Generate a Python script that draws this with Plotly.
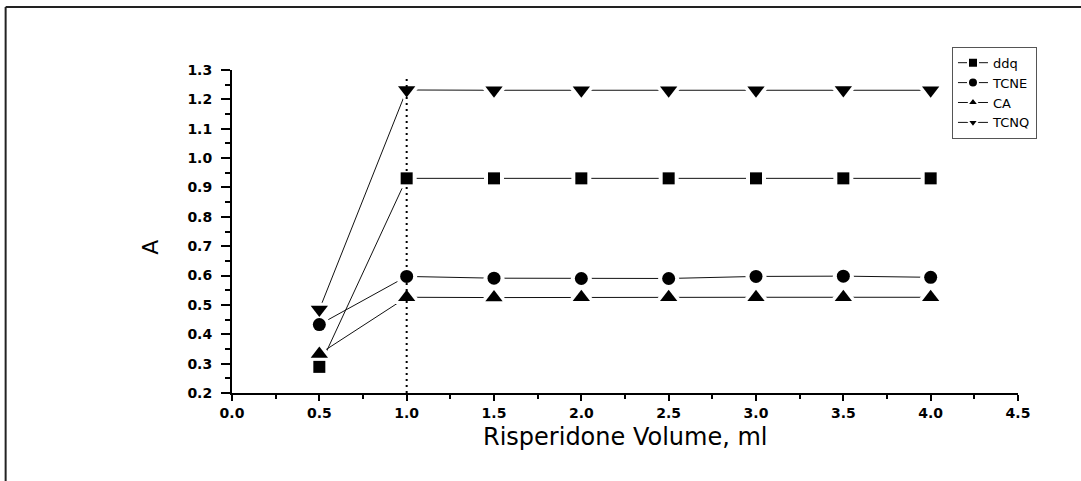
import plotly.graph_objects as go

# Absorbance readings against risperidone volume for four acceptors
volume = [0.5, 1.0, 1.5, 2.0, 2.5, 3.0, 3.5, 4.0]
ddq = [0.289, 0.931, 0.931, 0.931, 0.931, 0.931, 0.931, 0.931]
tcne = [0.433, 0.597, 0.591, 0.590, 0.590, 0.597, 0.598, 0.594]
ca = [0.333, 0.526, 0.525, 0.526, 0.526, 0.526, 0.526, 0.526]
tcnq = [0.484, 1.232, 1.231, 1.231, 1.231, 1.231, 1.232, 1.231]

series_names = ["ddq", "TCNE", "CA", "TCNQ"]
series_values = [ddq, tcne, ca, tcnq]
symbols = ["square", "circle", "triangle-up", "triangle-down"]
marker_sizes = [12, 13, 15, 15]
halo_sizes = [20, 21, 27, 27]

# stoichiometric break point marked by a dotted guide
break_x = [1.0, 1.0]
break_y = [0.2, 1.275]

x_ticks = [0.0, 0.5, 1.0, 1.5, 2.0, 2.5, 3.0, 3.5, 4.0, 4.5]
y_ticks = [0.2, 0.3, 0.4, 0.5, 0.6, 0.7, 0.8, 0.9, 1.0, 1.1, 1.2, 1.3]

fig = go.Figure()

# connecting lines
for name, vals in zip(series_names, series_values):
    fig.add_trace(go.Scatter(x=volume, y=vals, mode="lines",
                             line=dict(color="#111", width=1),
                             showlegend=False, hoverinfo="skip"))

# white halos leave a small gap between each line and its symbol
for vals, sym, hs in zip(series_values, symbols, halo_sizes):
    fig.add_trace(go.Scatter(x=volume, y=vals, mode="markers",
                             marker=dict(symbol=sym, size=hs, color="white"),
                             showlegend=False, hoverinfo="skip"))

fig.add_trace(go.Scatter(x=break_x, y=break_y, mode="lines",
                         line=dict(color="black", width=2, dash="2px,4px"),
                         showlegend=False, hoverinfo="skip"))

for name, vals, sym, ms in zip(series_names, series_values, symbols, marker_sizes):
    fig.add_trace(go.Scatter(x=volume, y=vals, mode="markers", name=name,
                             marker=dict(symbol=sym, size=ms, color="black"),
                             showlegend=False))

# legend entries (line - symbol - line)
for name, sym in zip(series_names, symbols):
    fig.add_trace(go.Scatter(x=[None], y=[None], mode="lines+markers", name=name,
                             line=dict(color="#111", width=1),
                             marker=dict(symbol=sym, size=10, color="black",
                                         line=dict(color="white", width=2))))

tick_font = dict(family="DejaVu Sans", size=14, color="black", weight="bold")

fig.update_xaxes(range=[0, 4.5], tickvals=x_ticks, tickformat=".1f",
                 showline=True, linecolor="black", linewidth=2,
                 ticks="outside", ticklen=6, tickwidth=1.5, tickcolor="black",
                 showgrid=False, zeroline=False, tickfont=tick_font,
                 minor=dict(dtick=0.25, tick0=0, ticks="outside", ticklen=4,
                            tickwidth=1.5, tickcolor="black"),
                 ticklabelstandoff=0)
fig.update_yaxes(range=[0.2, 1.3], tickvals=y_ticks, tickformat=".1f",
                 showline=True, linecolor="black", linewidth=2,
                 ticks="outside", ticklen=9, tickwidth=1.5, tickcolor="black",
                 showgrid=False, zeroline=False, tickfont=tick_font,
                 minor=dict(dtick=0.05, tick0=0.2, ticks="outside", ticklen=5,
                            tickwidth=1.5, tickcolor="black"),
                 ticklabelstandoff=6)

fig.update_layout(
    width=1081, height=481,
    margin=dict(l=232, r=63, t=70, b=88),
    plot_bgcolor="white", paper_bgcolor="white",
    font=dict(family="DejaVu Sans", color="black"),
    legend=dict(x=0.916, y=1.072, xanchor="left", yanchor="top",
                bordercolor="#555", borderwidth=1, bgcolor="white",
                font=dict(family="DejaVu Sans", size=13, color="black"),
                itemwidth=30, tracegroupgap=0),
    annotations=[
        dict(text="Risperidone Volume, ml", xref="paper", yref="paper",
             x=0.5, y=-0.135, xanchor="center", yanchor="middle", showarrow=False,
             font=dict(family="DejaVu Sans", size=24, color="black")),
        dict(text="A", xref="paper", yref="paper", x=-0.103, y=0.45,
             xanchor="center", yanchor="middle", textangle=-90, showarrow=False,
             font=dict(family="DejaVu Sans", size=22, color="black")),
    ],
    shapes=[
        dict(type="line", xref="paper", yref="paper", x0=-0.288, x1=1.1,
             y0=1.195, y1=1.195, line=dict(color="#222", width=2)),
        dict(type="line", xref="paper", yref="paper", x0=-0.288, x1=-0.288,
             y0=1.195, y1=-0.3, line=dict(color="#222", width=2)),
    ],
)

fig.write_html("out.html")
